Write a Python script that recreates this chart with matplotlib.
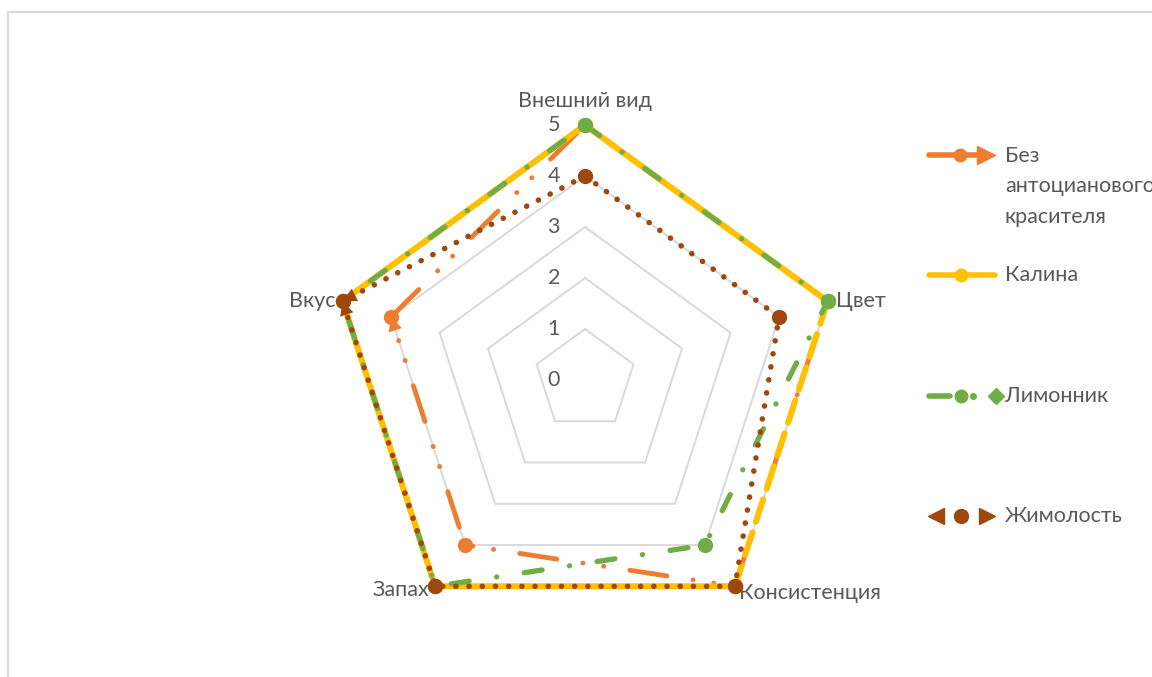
import matplotlib.pyplot as plt
import numpy as np
from matplotlib.patches import Rectangle

plt.rcParams['font.family'] = ['Lato', 'DejaVu Sans']
plt.rcParams['lines.scale_dashes'] = False

categories = ['Внешний вид', 'Цвет', 'Консистенция', 'Запах', 'Вкус']
series_names = ['Без\nантоцианового\nкрасителя', 'Калина', 'Лимонник', 'Жимолость']
bez = [5, 5, 5, 4, 4]
kalina = [5, 5, 5, 5, 5]
limonnik = [5, 5, 4, 5, 5]
zhimolost = [4, 4, 5, 5, 5]
r_ticks = [0, 1, 2, 3, 4, 5]

txt = '#595959'
grid_c = '#D9D9D9'
colors = ['#ED7D31', '#FFC000', '#70AD47', '#9E480E']
fs = 15.5

fig = plt.figure(figsize=(11.52, 6.77), dpi=100)
fig.patches.append(Rectangle((8/1152, -0.05), 1.2, 1 - 12/677 + 0.05,
                             transform=fig.transFigure, fill=False,
                             edgecolor=grid_c, lw=1.6))

ax = fig.add_axes([0.2865, 0.0620, 0.4427, 0.7533], projection='polar')
ax.set_theta_zero_location('N')
ax.set_theta_direction(-1)
ax.set_ylim(0, 5)
ax.grid(False)
ax.set_xticks([])
ax.set_yticks([])
ax.spines['polar'].set_visible(False)
ax.patch.set_alpha(0)

n = len(categories)
theta = np.arange(n) * 2 * np.pi / n
th_closed = np.append(theta, theta[0])

# сетка-пятиугольники
for v in r_ticks[1:]:
    ax.plot(th_closed, [v] * (n + 1), color=grid_c, lw=1.4, zorder=1, clip_on=False)

for v in r_ticks:
    ax.annotate(str(v), xy=(0, v), xytext=(-18, 0), textcoords='offset points',
                ha='right', va='center', fontsize=fs, color=txt)

offs = [(0, 17, 'center'), (6, 0, 'left'), (3, -5, 'left'), (-4, -3, 'right'), (-5, 0, 'right')]
for i, c in enumerate(categories):
    dx, dy, ha = offs[i]
    ax.annotate(c, xy=(theta[i], 5), xytext=(dx, dy), textcoords='offset points',
                ha=ha, va='center', fontsize=fs, color=txt)

def closed(vals):
    return np.append(vals, vals[0])

data = [bez, kalina, limonnik, zhimolost]

# Без антоцианового красителя
ax.plot(th_closed, closed(bez), color=colors[0], lw=3.5, zorder=2, clip_on=False,
        dashes=(27, 19, 0.1, 15, 0.1, 19), dash_capstyle='round')

# Калина: сплошная, кроме ребра Цвет-Консистенция (там штрих)
order = [2, 3, 4, 0, 1]
ax.plot(theta[order], np.array(kalina)[order], color=colors[1], lw=4.4, zorder=3,
        clip_on=False, solid_capstyle='round')
ax.plot(theta[1:3], kalina[1:3], color=colors[1], lw=4.4, zorder=3, clip_on=False,
        dashes=(17, 8), dash_capstyle='round')

# Лимонник
ax.plot(th_closed, closed(limonnik), color=colors[2], lw=3.8, zorder=4, clip_on=False,
        dashes=(13, 20, 0.1, 20), dash_capstyle='round')

# Жимолость
ax.plot(th_closed, closed(zhimolost), color=colors[3], lw=4.0, zorder=5, clip_on=False,
        dashes=(0.1, 9.4), dash_capstyle='round')

for k in range(4):
    ax.plot(theta, data[k], 'o', color=colors[k], ms=10, zorder=6 + k, clip_on=False)

# стрелки на концах рядов (Вкус)
for k in [0, 3]:
    ax.annotate('', xy=(theta[4], data[k][4]), xytext=(theta[3], data[k][3]),
                arrowprops=dict(arrowstyle='-|>,head_length=1.0,head_width=0.5',
                                color=colors[k], lw=0, shrinkA=0, shrinkB=0),
                zorder=10, annotation_clip=False)
ax.annotate('', xy=(theta[4], zhimolost[4]), xytext=(theta[0], zhimolost[0]),
            arrowprops=dict(arrowstyle='-|>,head_length=1.0,head_width=0.5',
                            color=colors[3], lw=0, shrinkA=0, shrinkB=0),
            zorder=10, annotation_clip=False)

# легенда
lax = fig.add_axes([0, 0, 1, 1])
lax.set_xlim(0, 1152)
lax.set_ylim(677, 0)
lax.axis('off')
ys = [155, 275, 396, 516]

y = ys[0]
lax.plot([929, 980], [y, y], color=colors[0], lw=4, solid_capstyle='round')
lax.plot([960], [y], 'o', color=colors[0], ms=9)
lax.plot([986], [y], '>', color=colors[0], ms=13)
y = ys[1]
lax.plot([929, 995], [y, y], color=colors[1], lw=4, solid_capstyle='round')
lax.plot([961], [y], 'o', color=colors[1], ms=9)
y = ys[2]
lax.plot([929, 950], [y, y], color=colors[2], lw=4, solid_capstyle='round')
lax.plot([961], [y], 'o', color=colors[2], ms=9)
lax.plot([973], [y], 'o', color=colors[2], ms=4)
lax.plot([996], [y], 'D', color=colors[2], ms=8)
y = ys[3]
lax.plot([936], [y], '<', color=colors[3], ms=11)
lax.plot([961], [y], 'o', color=colors[3], ms=10)
lax.plot([987], [y], '>', color=colors[3], ms=11)

lax.text(1005, ys[0] - 9, series_names[0], ha='left', va='top', fontsize=fs,
         color=txt, linespacing=1.65)
for k in range(1, 4):
    lax.text(1005, ys[k], series_names[k], ha='left', va='center', fontsize=fs, color=txt)

fig.savefig('out.png', dpi=100)
